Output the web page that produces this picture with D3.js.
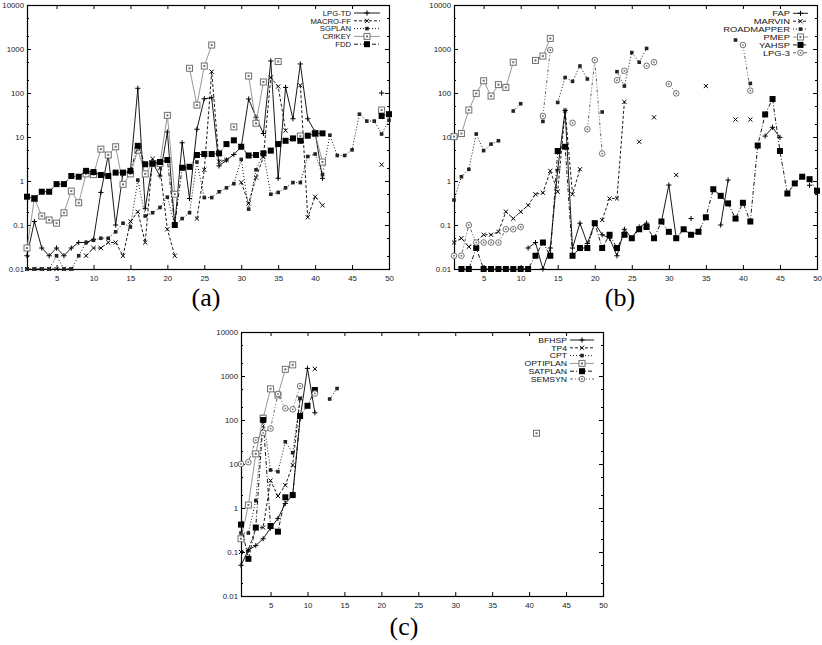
<!DOCTYPE html>
<html><head><meta charset="utf-8">
<script src="https://cdn.jsdelivr.net/npm/d3@7"></script>
<style>body{margin:0;background:#fff}svg{display:block}</style>
</head><body><svg id="c" width="822" height="645"></svg>
<script>
const N = null;
const xTicks = [5,10,15,20,25,30,35,40,45,50];
const yTicks = [0.01,0.1,1,10,100,1000,10000];
const yTickLabels = ["0.01","0.1","1","10","100","1000","10000"];
const panelLabels = ["(a)","(b)","(c)"];

// ---- panel (a)
const namesA = ["LPG-TD","MACRO-FF","SGPLAN","CRIKEY","FDD"];
const aLPGTD = [0.02,0.12,0.03,0.02,0.03,0.02,0.03,0.04,0.04,0.047, 0.55,3.9,0.1,1.5,1.7,128,0.24,2.6,1.3,13, 0.1,7.4,0.4,15,74,78,2.2,3,4,6, 73,28,12,536,1.15,134,26,458,26,13, 1.15,N,N,N,N,N,N,N,100,N];
const aMACRO = [0.01,0.01,0.01,0.01,0.01,0.01,0.01,N,0.02,0.03, 0.03,0.04,0.04,0.02,0.12,0.2,0.04,3.2,2,0.08, 0.02,N,N,0.14,1.8,305,2.75,3,N,0.93, 0.31,1.2,3.5,226,141,14,N,150,0.15,0.44, 0.28,N,N,N,N,N,N,N,2.35,N];
const aSGPLAN = [0.01,0.01,0.01,0.01,0.02,0.01,0.01,0.02,0.04,0.045, 0.05,0.05,0.07,0.11,0.09,1.05,0.16,0.19,0.25,0.43, 0.1,0.14,0.19,2.7,0.42,0.42,0.57,0.7,0.87,3.1, 0.23,1.8,4.3,0.5,0.55,0.7,0.92,0.92,3.6,4.1, 1.4,11,3.8,3.8,5.1,33,23,23,11.7,24];
const aCRIKEY = [0.03,0.4,0.16,0.13,0.11,0.19,0.59,0.32,1.45,1.4, 5.3,3.9,6.0,0.84,1.45,5,1.45,2.5,2.5,31, 0.5,N,364,53,410,1230,N,N,17,N, 243,20.5,178,N,520,N,N,10.5,N,12, 2.7,N,N,N,N,N,N,N,41,N];
const aFDD = [0.44,0.4,0.57,0.57,0.85,0.85,1.3,1.25,1.7,1.6, 1.37,1.3,1.55,1.55,1.7,6.3,2.4,2.5,2.7,3.0, 0.1,2.0,2.1,3.9,4.1,4.1,4.25,6.9,8.4,6.0, 3.8,3.9,4.25,4.9,6.9,8.2,9.3,8.2,10.7,12.1, 12.1,N,N,N,N,N,N,N,30,33];

// ---- panel (b)
const namesB = ["FAP","MARVIN","ROADMAPPER","PMEP","YAHSP","LPG-3"];
const bFAP = [N,N,N,N,N,N,N,N,N,N, 0.03,0.04,0.01,0.03,1.8,40,0.03,0.11,0.038,0.11, 0.06,0.05,0.02,0.08,0.05,0.09,0.11,N,0.12,0.81, 0.05,N,0.14,N,N,N,0.1,1.05,N,N, N,N,10.5,16.6,9.8,N,N,N,0.8,N];
const bMARVIN = [0.04,0.05,0.032,0.042,0.06,0.06,0.07,0.2,0.14,0.2, 0.28,0.5,0.54,1.7,0.57,40,0.5,1.85,N,N, 0.13,0.4,0.4,63,N,7.8,N,28,N,N, 1.37,N,N,N,144,N,N,N,25,N, 25,N,N,N,N,N,N,N,N,N];
const bROAD = [0.37,1.25,1.84,11.7,4.9,6.9,8.2,N,39,57, N,N,22.6,N,61,225,184,410,208,N, 37,N,305,144,829,500,1030,N,N,N, N,N,N,N,N,N,N,N,1600,N, 165,N,N,N,N,N,N,N,N,N];
const bPMEP = [10.2,12,41,98,190,85,155,134,500,N, N,550,690,1740];
const bYAHSP = [N,0.01,0.01,0.03,0.01,0.01,0.01,0.01,0.01,0.01, 0.01,0.02,0.04,0.02,4.8,6.0,0.02,0.03,0.03,0.11, 0.03,0.06,0.03,0.06,0.05,0.08,0.09,0.05,0.12,0.07, 0.05,0.08,0.06,0.07,0.15,0.65,0.46,0.31,0.14,0.32, 0.12,6.4,32.6,73,4.8,0.52,0.88,1.25,1.1,0.6];
const bLPG3 = [0.02,0.02,0.1,0.04,0.04,0.04,0.04,0.08,0.08,0.09, N,N,30,950,N,N,21,N,15,560, 4.2,N,195,320,N,N,415,500,N,160, 98,N,N,N,N,N,N,N,N,1230, 113];

// ---- panel (c)
const namesC = ["BFHSP","TP4","CPT","OPTIPLAN","SATPLAN","SEMSYN"];
const cBFHSP = [0.05,0.11,0.14,0.2,0.35,0.58,1.27,1.97,109,1490,146];
const cTP4 = [0.1,0.11,0.35,0.36,4.2,1.87,3.3,9.5,310,N,1450];
const cCPT = [0.27,0.27,1.47,119,7.3,6.7,32,18,310,N,N,N,300,520];
const cOPTI = [0.2,1.17,17,110,510,370,1420,1790,N,N,N,N,N,N,N,N,N,N,N,N, N,N,N,N,N,N,N,N,N,N, N,N,N,N,N,N,N,N,N,N, 50];
const cSAT = [0.42,0.07,0.36,100,0.39,0.29,1.75,1.97,123,210,480];
const cSEM = [10,11,35,51,64,390,184,175,590,N,400];

const styles = [
  {dash:null, color:"#000", mark:"plus"},
  {dash:"3,2", color:"#000", mark:"cross"},
  {dash:"1,2", color:"#000", mark:"smallsq"},
  {dash:null, color:"#8a8a8a", mark:"opensq"},
  {dash:"4,2,1,2", color:"#000", mark:"fillsq"},
  {dash:"3,2,1,2,1,2", color:"#555", mark:"circle"}
];

const panels = [
  {names:namesA, data:[aLPGTD,aMACRO,aSGPLAN,aCRIKEY,aFDD], x0:27, x1:389, y0:269, y1:5,
   leg:{tx:351, l0:354, l1:380, y:13, dy:7.8, sx:1.0}, label:{x:206, y:306}},
  {names:namesB, data:[bFAP,bMARVIN,bROAD,bPMEP,bYAHSP,bLPG3], x0:454, x1:817, y0:269, y1:5,
   leg:{tx:790, l0:793, l1:808, y:13.3, dy:7.9, sx:1.22}, label:{x:620, y:306}},
  {names:namesC, data:[cBFHSP,cTP4,cCPT,cOPTI,cSAT,cSEM], x0:241, x1:603, y0:596, y1:332,
   leg:{tx:567, l0:570, l1:594, y:340, dy:7.8, sx:1.12}, label:{x:404, y:635}}
];

const svg = d3.select("#c");
const FONT = "'Liberation Sans', Arial, Helvetica, sans-serif";
const TICKFS = 7.8, LEGFS = 7.7;

function marker(g, x, y, type) {
  const s = 2.6;
  if (type === "plus") {
    g.append("path").attr("d", `M${x-s},${y}H${x+s}M${x},${y-s}V${y+s}`).attr("stroke","#000").attr("stroke-width",1).attr("fill","none");
  } else if (type === "cross") {
    g.append("path").attr("d", `M${x-2.1},${y-2.1}L${x+2.1},${y+2.1}M${x-2.1},${y+2.1}L${x+2.1},${y-2.1}`).attr("stroke","#000").attr("stroke-width",1).attr("fill","none");
  } else if (type === "smallsq") {
    g.append("rect").attr("x",x-1.8).attr("y",y-1.8).attr("width",3.6).attr("height",3.6).attr("fill","#222");
  } else if (type === "opensq") {
    g.append("rect").attr("x",x-3).attr("y",y-3).attr("width",6).attr("height",6).attr("fill","#fff").attr("stroke","#707070").attr("stroke-width",1);
    g.append("rect").attr("x",x-1).attr("y",y-1).attr("width",2).attr("height",2).attr("fill","#707070");
  } else if (type === "fillsq") {
    g.append("rect").attr("x",x-3).attr("y",y-3).attr("width",6).attr("height",6).attr("fill","#000");
  } else if (type === "circle") {
    g.append("circle").attr("cx",x).attr("cy",y).attr("r",2.8).attr("fill","#fff").attr("stroke","#707070").attr("stroke-width",1);
    g.append("circle").attr("cx",x).attr("cy",y).attr("r",0.9).attr("fill","#707070");
  }
}

panels.forEach((p, pi) => {
  const x = d3.scaleLinear().domain([1,50]).range([p.x0, p.x1]);
  const y = d3.scaleLog().domain([0.01,10000]).range([p.y0, p.y1]);
  const g = svg.append("g");

  const minor = [];
  for (let e = -2; e < 4; e++) { minor.push(2*Math.pow(10,e)); minor.push(5*Math.pow(10,e)); }
  const ax = g.append("g").attr("stroke","#000").attr("stroke-width",1);
  minor.forEach(v => {
    const yy = Math.round(y(v)) + 0.5;
    ax.append("line").attr("x1",p.x0).attr("x2",p.x0+2).attr("y1",yy).attr("y2",yy);
    ax.append("line").attr("x1",p.x1).attr("x2",p.x1-2).attr("y1",yy).attr("y2",yy);
  });

  const yAxis = d3.axisLeft(y).tickValues(yTicks).tickSizeInner(-4).tickSizeOuter(0).tickPadding(3)
    .tickFormat((d,i) => yTickLabels[i]);
  const ya = g.append("g").attr("transform",`translate(${p.x0},0)`).call(yAxis);
  ya.select(".domain").remove();
  ya.selectAll("text").attr("font-family",FONT).attr("font-size",TICKFS).attr("fill","#222");
  g.append("g").attr("transform",`translate(${p.x1},0)`)
    .call(d3.axisRight(y).tickValues(yTicks).tickSizeInner(-4).tickSizeOuter(0).tickFormat(""))
    .select(".domain").remove();

  const xAxis = d3.axisBottom(x).tickValues(xTicks).tickSizeInner(-4).tickSizeOuter(0).tickPadding(6);
  const xa = g.append("g").attr("transform",`translate(0,${p.y0})`).call(xAxis);
  xa.select(".domain").remove();
  xa.selectAll("text").attr("font-family",FONT).attr("font-size",TICKFS).attr("fill","#222");
  g.append("g").attr("transform",`translate(0,${p.y1})`)
    .call(d3.axisTop(x).tickValues(xTicks).tickSizeInner(-4).tickSizeOuter(0).tickFormat(""))
    .select(".domain").remove();

  g.append("rect").attr("x",p.x0+0.5).attr("y",p.y1+0.5).attr("width",p.x1-p.x0).attr("height",p.y0-p.y1)
    .attr("fill","none").attr("stroke","#000").attr("stroke-width",1.2);

  p.data.forEach((arr, si) => {
    const st = styles[si];
    const pts = arr.map((v,i) => ({i:i+1, v:v}));
    const line = d3.line().defined(d => d.v != null).x(d => x(d.i)).y(d => y(d.v));
    const path = g.append("path").datum(pts).attr("d", line).attr("fill","none")
      .attr("stroke", st.color).attr("stroke-width", 0.9);
    if (st.dash) path.attr("stroke-dasharray", st.dash);
    const mg = g.append("g");
    pts.filter(d => d.v != null).forEach(d => marker(mg, x(d.i), y(d.v), st.mark));
  });

  p.names.forEach((n, si) => {
    const st = styles[si];
    const yy = p.leg.y + si * p.leg.dy;
    g.append("text").attr("transform",`translate(${p.leg.tx},${yy}) scale(${p.leg.sx},1)`)
      .attr("dy","0.35em").attr("text-anchor","end")
      .attr("font-family",FONT).attr("font-size",LEGFS).attr("fill","#111").text(n);
    const l = g.append("line").attr("x1",p.leg.l0).attr("x2",p.leg.l1).attr("y1",yy).attr("y2",yy)
      .attr("stroke",st.color).attr("stroke-width",0.9);
    if (st.dash) l.attr("stroke-dasharray", st.dash);
    marker(g, (p.leg.l0+p.leg.l1)/2, yy, st.mark);
  });

  svg.append("text").attr("x",p.label.x).attr("y",p.label.y).attr("text-anchor","middle")
    .attr("font-family","'Liberation Serif','DejaVu Serif',serif").attr("font-size",26).attr("fill","#000")
    .text(panelLabels[pi]);
});
</script></body></html>
